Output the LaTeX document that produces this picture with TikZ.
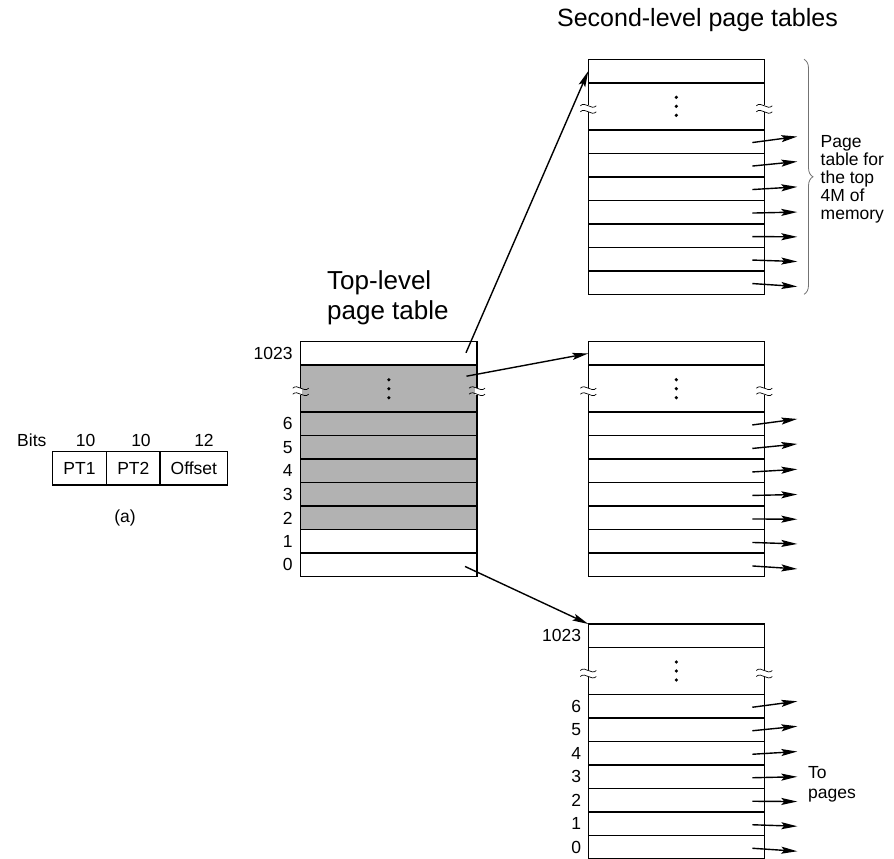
\documentclass[tikz,border=0pt]{standalone}
\usepackage{fontspec}
\setmainfont{Liberation Sans}
\usetikzlibrary{arrows.meta,decorations.pathreplacing}

\tikzset{
  row/.style={draw, line width=1.5pt, minimum height=23.5pt, inner sep=0pt, outer sep=0pt, anchor=north west},
  arr/.style={line width=1.4pt, -{Stealth[length=16pt,width=7pt,inset=3pt]}},
  num/.style={anchor=east, inner sep=0pt, font=\fontsize{17.5}{18}\selectfont},
  brk/.style={line width=0.7pt},
  cell/.style={draw, line width=1.3pt, minimum height=33.3pt, inner sep=0pt, font=\fontsize{17.5}{18}\selectfont},
  txt/.style={inner sep=0pt, font=\fontsize{17.5}{18}\selectfont},
  big/.style={inner sep=0pt, font=\fontsize{25}{30}\selectfont},
  shaded/.style={fill=black!30}
}

\newcommand\brkmark[1]{%
  \begin{scope}[shift={([yshift=-2.5pt]#1)}]
    \fill[white] (-1.6,-3.5) rectangle (1.6,3.5);
    \draw[brk] (-8,-3) .. controls (-3,-8) and (3,2) .. (8,-3);
    \draw[brk] (-8,3) .. controls (-3,-2) and (3,8) .. (8,3);
  \end{scope}}

\newcommand\pgtab[5]{%
  \node[row, minimum width=#5, fill=white] (#1-top) at (#2,#3) {};
  \node[row, minimum width=#5, minimum height=47pt, fill=#4] (#1-dots) at (#2,#3+23.5) {};
  \foreach \i/\f [count=\k from 0] in {6/#4,5/#4,4/#4,3/#4,2/#4,1/white,0/white}
    \node[row, minimum width=#5, fill=\f] (#1-\i) at (#2,{#3+70.5+\k*23.5}) {};
  \foreach \d in {-9,0,9}
    \fill ([yshift=\d pt]#1-dots.center) circle[radius=1.8pt];
  \brkmark{#1-dots.west}
  \brkmark{#1-dots.east}
}

\newcommand\pgarrows[1]{%
  \foreach \i/\e in {6/5,5/3.5,4/1.7,3/0,2/-1.3,1/-2.5,0/-4}
    \draw[arr] ([xshift=-12pt,yshift=-1pt]#1-\i.east) -- ([xshift=33pt,yshift=\e pt]#1-\i.east);
}

\begin{document}
\begin{tikzpicture}[x=1pt,y=-1pt]
\useasboundingbox (0,0) rectangle (894,859);

% (a) address format
\node[txt, anchor=base west] (bits) at (17,446.7) {Bits};
\node[txt, anchor=base] (b1) at (85.7,446.7) {10};
\node[txt, anchor=base] (b2) at (141,446.7) {10};
\node[txt, anchor=base] (b3) at (204,446.7) {12};
\node[cell, minimum width=54.4pt] (pt1) at (79.5,468.3) {PT1};
\node[cell, minimum width=53.3pt] (pt2) at (133.35,468.3) {PT2};
\node[cell, minimum width=67.7pt] (off) at (193.85,468.3) {Offset};
\node[txt] (cap) at (125,518) {(a)};

% titles
\node[big, anchor=base] (slpt) at (697.5,26.7) {Second-level page tables};
\node[big, font=\fontsize{26}{30}\selectfont, anchor=base west, align=left] (tlpt) at (327,319) {Top-level\\page table};

% tables
\pgtab{L}{300.7}{341.7}{black!30}{176.3pt}
\pgtab{A}{588.3}{59.3}{white}{176pt}
\pgtab{B}{588.3}{341.7}{white}{176pt}
\pgtab{C}{588.3}{624}{white}{176pt}

% row numbers
\node[num] (Ln1023) at ([xshift=-8pt]L-top.west) {1023};
\foreach \i in {6,5,4,3,2,1,0}
  \node[num] (Ln\i) at ([xshift=-8pt]L-\i.west) {\i};
\node[num] (Cn1023) at ([xshift=-7pt]C-top.west) {1023};
\foreach \i in {6,5,4,3,2,1,0}
  \node[num] (Cn\i) at ([xshift=-7pt]C-\i.west) {\i};

% pointers from top-level table
\draw[arr] ([xshift=-11pt,yshift=0.7pt]L-top.east) -- (A-top.west);
\draw[arr] ([xshift=-10.5pt,yshift=-11pt]L-dots.north east) -- (B-top.west);
\draw[arr] ([xshift=-12pt,yshift=-1.5pt]L-0.east) -- (C-top.north west);

% pointers to pages
\pgarrows{A}
\pgarrows{B}
\pgarrows{C}

% brace and labels
\draw[black!55, line width=0.8pt, decorate, decoration={brace, amplitude=9pt}] (804,59.3) -- (804,294.3);
\node[txt, anchor=base west, align=left] (ptl) at (820.5,219) {Page\\table for\\the top\\4M of\\memory};
\node[inner sep=0pt, font=\fontsize{17.5}{20}\selectfont, anchor=base west, align=left] (topages) at (808,798) {To\\pages};
\end{tikzpicture}
\end{document}
